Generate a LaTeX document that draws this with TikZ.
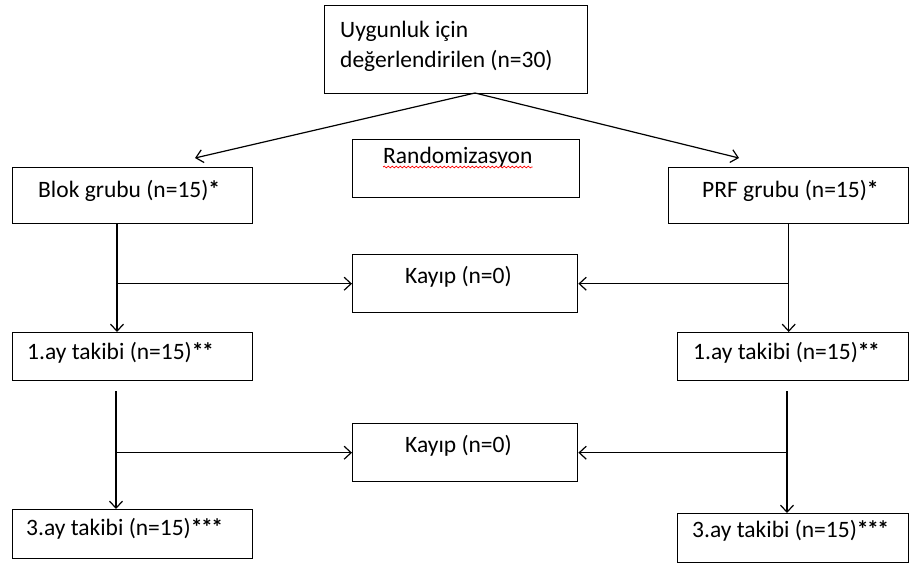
\documentclass[tikz,border=0pt]{standalone}
\usepackage{fontspec}
\setmainfont{Carlito}
\usetikzlibrary{arrows.meta,decorations.pathmorphing}
\newcommand{\stA}{{\bfseries*}}
\newcommand{\stB}{{\bfseries*\kern-1.5pt*}}
\newcommand{\stC}{{\bfseries*\kern-1.5pt*\kern-1.5pt*}}
\begin{document}
\begin{tikzpicture}[x=1pt,y=-1pt,
  box/.style={draw, line width=1.4pt, inner sep=0pt, anchor=north west},
  lbl/.style={font=\fontsize{23.5}{28}\selectfont, inner sep=0pt, anchor=base west},
  arr/.style={line width=1.2pt, -{Straight Barb[length=7pt,width=13pt]}}]
\useasboundingbox (0,0) rectangle (910,565);
\fill[white] (0,0) rectangle (910,565);
% boxes
\node[box, minimum width=263pt, minimum height=88pt] (top) at (324,5) {};
\node[box, minimum width=227pt, minimum height=58pt] (rand) at (352,139) {};
\node[box, minimum width=240pt, minimum height=56pt] (blok) at (12,167) {};
\node[box, minimum width=240pt, minimum height=56pt] (prf) at (668,167) {};
\node[box, minimum width=225pt, minimum height=58pt] (kay1) at (352,254) {};
\node[box, minimum width=240pt, minimum height=48pt] (ay1L) at (12,332) {};
\node[box, minimum width=231pt, minimum height=48pt] (ay1R) at (677,332) {};
\node[box, minimum width=225pt, minimum height=58pt] (kay2) at (352,423) {};
\node[box, minimum width=240pt, minimum height=49pt] (ay3L) at (12,509) {};
\node[box, minimum width=231pt, minimum height=49pt] (ay3R) at (677,513) {};
% texts
\node[lbl] (t1) at (340,37) {Uygunluk için};
\node[lbl] (t2) at (340,67) {değerlendirilen (n=30)};
\node[lbl] (trand) at (383,163) {Randomizasyon};
\node[lbl] (tblok) at (38,197) {Blok grubu (n=15)\stA};
\node[lbl] (tprf) at (702,197) {PRF grubu (n=15)\stA};
\node[lbl] (tk1) at (405,283) {Kayıp (n=0)};
\node[lbl] (ta1L) at (27,359) {1.ay takibi (n=15)\stB};
\node[lbl] (ta1R) at (693,359) {1.ay takibi (n=15)\stB};
\node[lbl] (tk2) at (405,452) {Kayıp (n=0)};
\node[lbl] (ta3L) at (26,535) {3.ay takibi (n=15)\stC};
\node[lbl] (ta3R) at (692,537) {3.ay takibi (n=15)\stC};
% spelling underline
\draw[red, line width=0.7pt, decorate, decoration={snake, amplitude=0.9pt, segment length=4pt}]
  ([yshift=-4pt]trand.base west) -- ([yshift=-4pt]trand.base east);
% connectors
\coordinate (src) at (475,93);
\coordinate (tl) at (195,158);
\coordinate (tr) at (739,158);
\draw[arr] (src) -- (tl);
\draw[arr] (src) -- (tr);
\coordinate (L1) at ([xshift=105pt]blok.south west);
\coordinate (R1) at (prf.south);
\draw[arr] (L1) -- (L1 |- ay1L.north);
\draw[arr] (kay1.west -| L1) -- (kay1.west);
\draw[arr] (R1) -- (R1 |- ay1R.north);
\draw[arr] (kay1.east -| R1) -- (kay1.east);
\coordinate (L2) at ([xshift=104pt,yshift=-10pt]ay1L.south west);
\coordinate (R2) at ([xshift=110pt,yshift=-10pt]ay1R.south west);
\draw[arr] (L2) -- (L2 |- ay3L.north);
\draw[arr] (kay2.west -| L2) -- (kay2.west);
\draw[arr] (R2) -- (R2 |- ay3R.north);
\draw[arr] (kay2.east -| R2) -- (kay2.east);
\end{tikzpicture}
\end{document}
